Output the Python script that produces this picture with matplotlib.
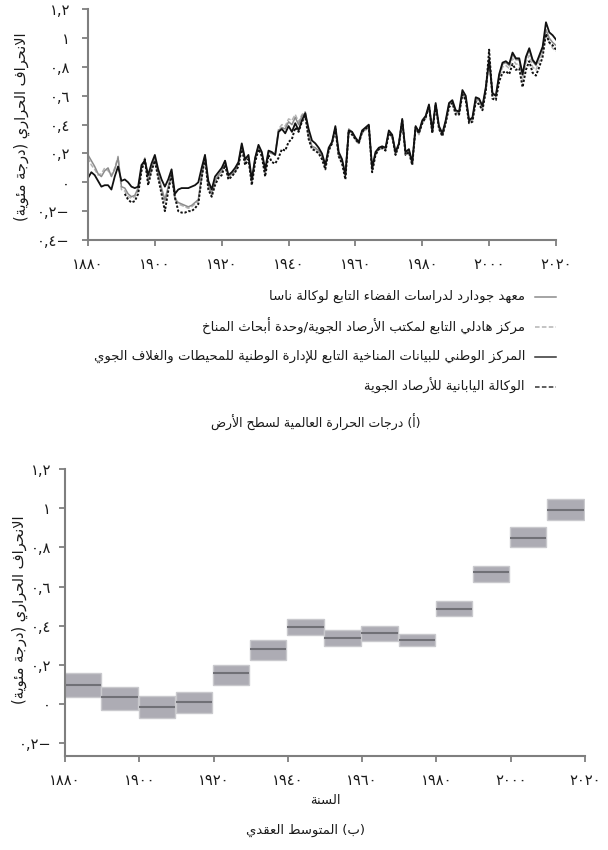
import matplotlib
matplotlib.use("Agg")
import matplotlib.pyplot as plt
from matplotlib.lines import Line2D
import numpy as np

plt.rcParams['font.family'] = ['DejaVu Sans']

# ---- data: annual anomalies (panel a) ----
years = list(range(1880, 2021))

noaa = [0.03, 0.07, 0.05, 0.01, -0.03, -0.02, -0.02, -0.05, 0.04, 0.11,
        0.01, 0.02, 0.00, -0.03, -0.04, -0.03, 0.12, 0.15, 0.05, 0.13,
        0.19, 0.09, 0.02, -0.03, 0.02, 0.09, -0.08, -0.05, -0.04, -0.04,
        -0.04, -0.03, -0.02, 0.00, 0.10, 0.19, 0.01, -0.05, 0.04, 0.07,
        0.10, 0.15, 0.05, 0.07, 0.10, 0.14, 0.27, 0.16, 0.19, 0.02,
        0.17, 0.26, 0.21, 0.09, 0.22, 0.21, 0.19, 0.35, 0.37, 0.34,
        0.39, 0.35, 0.41, 0.36, 0.43, 0.48, 0.37, 0.29, 0.27, 0.24,
        0.20, 0.12, 0.24, 0.28, 0.39, 0.21, 0.16, 0.05, 0.36, 0.35,
        0.31, 0.28, 0.36, 0.38, 0.40, 0.10, 0.21, 0.24, 0.25, 0.24,
        0.36, 0.33, 0.21, 0.27, 0.44, 0.21, 0.23, 0.14, 0.39, 0.35,
        0.43, 0.46, 0.54, 0.36, 0.55, 0.39, 0.34, 0.43, 0.55, 0.57,
        0.50, 0.49, 0.64, 0.60, 0.43, 0.45, 0.59, 0.58, 0.53, 0.66,
        0.85, 0.62, 0.60, 0.75, 0.83, 0.84, 0.82, 0.90, 0.86, 0.86,
        0.75, 0.87, 0.93, 0.85, 0.82, 0.88, 0.94, 1.11, 1.04, 1.02,
        0.99]

nasa = [0.19, 0.15, 0.11, 0.06, 0.04, 0.08, 0.10, 0.04, 0.09, 0.17,
        -0.03, -0.04, -0.08, -0.10, -0.09, -0.04, 0.10, 0.16, 0.01, 0.10,
        0.17, 0.06, -0.04, -0.12, -0.03, 0.07, -0.12, -0.14, -0.15, -0.16,
        -0.17, -0.16, -0.14, -0.12, 0.05, 0.19, -0.02, -0.08, 0.01, 0.05,
        0.08, 0.15, 0.04, 0.06, 0.08, 0.13, 0.26, 0.15, 0.18, 0.00,
        0.17, 0.25, 0.20, 0.07, 0.21, 0.20, 0.19, 0.36, 0.38, 0.37,
        0.42, 0.40, 0.45, 0.40, 0.46, 0.48, 0.33, 0.25, 0.24, 0.22,
        0.18, 0.11, 0.23, 0.27, 0.38, 0.19, 0.15, 0.06, 0.37, 0.35,
        0.30, 0.27, 0.35, 0.37, 0.39, 0.09, 0.20, 0.23, 0.24, 0.23,
        0.35, 0.32, 0.20, 0.26, 0.43, 0.20, 0.22, 0.13, 0.38, 0.34,
        0.42, 0.45, 0.53, 0.35, 0.54, 0.38, 0.33, 0.42, 0.54, 0.56,
        0.49, 0.48, 0.62, 0.59, 0.42, 0.44, 0.58, 0.57, 0.52, 0.65,
        0.86, 0.61, 0.60, 0.74, 0.82, 0.83, 0.81, 0.89, 0.85, 0.85,
        0.74, 0.86, 0.92, 0.84, 0.81, 0.87, 0.93, 1.06, 1.00, 0.97,
        0.95]

hadley = [0.17, 0.12, 0.09, 0.05, 0.06, 0.10, 0.08, 0.05, 0.10, 0.18,
          -0.05, -0.06, -0.10, -0.11, -0.10, -0.06, 0.08, 0.17, 0.00, 0.08,
          0.15, 0.05, -0.06, -0.14, -0.05, 0.05, -0.10, -0.15, -0.16, -0.17,
          -0.18, -0.17, -0.15, -0.13, 0.03, 0.17, -0.03, -0.09, 0.00, 0.04,
          0.07, 0.14, 0.03, 0.05, 0.07, 0.12, 0.25, 0.14, 0.17, -0.01,
          0.16, 0.24, 0.20, 0.06, 0.21, 0.20, 0.20, 0.37, 0.40, 0.39,
          0.44, 0.43, 0.47, 0.42, 0.47, 0.49, 0.32, 0.24, 0.23, 0.21,
          0.17, 0.11, 0.22, 0.27, 0.37, 0.18, 0.14, 0.05, 0.36, 0.34,
          0.29, 0.27, 0.34, 0.36, 0.38, 0.08, 0.19, 0.23, 0.23, 0.22,
          0.34, 0.31, 0.19, 0.26, 0.42, 0.19, 0.21, 0.12, 0.37, 0.33,
          0.41, 0.44, 0.52, 0.35, 0.53, 0.37, 0.32, 0.41, 0.53, 0.55,
          0.48, 0.47, 0.61, 0.58, 0.41, 0.43, 0.57, 0.56, 0.51, 0.63,
          0.83, 0.59, 0.58, 0.72, 0.80, 0.81, 0.79, 0.86, 0.82, 0.82,
          0.71, 0.83, 0.88, 0.80, 0.78, 0.84, 0.90, 1.03, 0.97, 0.93,
          0.91]

jma_years = list(range(1891, 2021))
jma = [-0.08, -0.12, -0.14, -0.13, -0.08, 0.08, 0.16, -0.02, 0.08,
       0.15, 0.03, -0.08, -0.20, -0.06, 0.05, -0.10, -0.20, -0.21, -0.21,
       -0.20, -0.20, -0.18, -0.15, 0.03, 0.17, -0.05, -0.10, -0.02, 0.03,
       0.05, 0.12, 0.02, 0.04, 0.07, 0.11, 0.24, 0.12, 0.16, -0.02,
       0.14, 0.23, 0.18, 0.04, 0.19, 0.14, 0.13, 0.17, 0.23, 0.22,
       0.28, 0.30, 0.38, 0.35, 0.42, 0.46, 0.30, 0.23, 0.22, 0.20,
       0.16, 0.09, 0.22, 0.27, 0.37, 0.18, 0.13, 0.02, 0.36, 0.33,
       0.30, 0.27, 0.35, 0.37, 0.39, 0.07, 0.19, 0.23, 0.24, 0.22,
       0.34, 0.32, 0.19, 0.26, 0.43, 0.19, 0.21, 0.12, 0.38, 0.34,
       0.41, 0.45, 0.53, 0.34, 0.54, 0.37, 0.32, 0.41, 0.52, 0.55,
       0.47, 0.47, 0.61, 0.57, 0.41, 0.42, 0.56, 0.54, 0.50, 0.63,
       0.92, 0.58, 0.57, 0.70, 0.76, 0.77, 0.75, 0.82, 0.78, 0.79,
       0.66, 0.78, 0.84, 0.76, 0.74, 0.80, 0.87, 1.03, 0.97, 0.95,
       0.92]

# ---- data: decadal means (panel b) ----
decades = [1880, 1890, 1900, 1910, 1920, 1930, 1940, 1950, 1960, 1970,
           1980, 1990, 2000, 2010]
dec_mean = [0.099, 0.034, -0.014, 0.010, 0.160, 0.281, 0.395, 0.339, 0.363,
            0.329, 0.487, 0.676, 0.846, 0.989]
dec_low = [0.036, -0.029, -0.070, -0.046, 0.099, 0.226, 0.354, 0.296, 0.322,
           0.296, 0.451, 0.623, 0.800, 0.941]
dec_high = [0.158, 0.085, 0.041, 0.060, 0.201, 0.329, 0.436, 0.376, 0.400,
            0.359, 0.528, 0.706, 0.902, 1.049]

# ---- text ----
xticks = [1880, 1900, 1920, 1940, 1960, 1980, 2000, 2020]
xtick_labels = ['١٨٨٠', '١٩٠٠', '١٩٢٠', '١٩٤٠', '١٩٦٠', '١٩٨٠', '٢٠٠٠', '٢٠٢٠']
yticks_a = [-0.4, -0.2, 0, 0.2, 0.4, 0.6, 0.8, 1.0, 1.2]
ytick_labels_a = ['٠,٤−', '٠,٢−', '٠', '٠,٢', '٠,٤', '٠,٦', '٠,٨', '١', '١,٢']
yticks_b = yticks_a[1:]
ytick_labels_b = ytick_labels_a[1:]

ylabel = 'الانحراف الحراري (درجة مئوية)'
xlabel_b = 'السنة'
caption_a = '(أ) درجات الحرارة العالمية لسطح الأرض'
caption_b = '(ب) المتوسط العقدي'
names = ['معهد جودارد لدراسات الفضاء التابع لوكالة ناسا',
         'مركز هادلي التابع لمكتب الأرصاد الجوية/وحدة أبحاث المناخ',
         'المركز الوطني للبيانات المناخية التابع للإدارة الوطنية للمحيطات والغلاف الجوي',
         'الوكالة اليابانية للأرصاد الجوية']


# matplotlib does no arabic shaping, so pick presentation forms by hand
BASE = {'ء': 0xFE80, 'آ': 0xFE81, 'أ': 0xFE83, 'ؤ': 0xFE85, 'إ': 0xFE87,
        'ئ': 0xFE89, 'ا': 0xFE8D, 'ب': 0xFE8F, 'ة': 0xFE93, 'ت': 0xFE95,
        'ث': 0xFE99, 'ج': 0xFE9D, 'ح': 0xFEA1, 'خ': 0xFEA5, 'د': 0xFEA9,
        'ذ': 0xFEAB, 'ر': 0xFEAD, 'ز': 0xFEAF, 'س': 0xFEB1, 'ش': 0xFEB5,
        'ص': 0xFEB9, 'ض': 0xFEBD, 'ط': 0xFEC1, 'ظ': 0xFEC5, 'ع': 0xFEC9,
        'غ': 0xFECD, 'ف': 0xFED1, 'ق': 0xFED5, 'ك': 0xFED9, 'ل': 0xFEDD,
        'م': 0xFEE1, 'ن': 0xFEE5, 'ه': 0xFEE9, 'و': 0xFEED, 'ى': 0xFEEF,
        'ي': 0xFEF1}
RIGHT_ONLY = set('آأؤإاةدذرزوى')
LAM_ALEF = {'آ': 0xFEF5, 'أ': 0xFEF7, 'إ': 0xFEF9, 'ا': 0xFEFB}


def joins_next(ch):
    return ch in BASE and ch not in RIGHT_ONLY and ch != 'ء'


def ar(text):
    out = []
    i = 0
    while i < len(text):
        ch = text[i]
        prev = text[i - 1] if i > 0 else ''
        nxt = text[i + 1] if i + 1 < len(text) else ''
        if ch == 'ل' and nxt in LAM_ALEF:
            out.append(chr(LAM_ALEF[nxt] + (1 if joins_next(prev) else 0)))
            i += 2
            continue
        if ch in BASE:
            b = BASE[ch]
            p = joins_next(prev)
            q = joins_next(ch) and nxt in BASE and nxt != 'ء'
            if ch == 'ء':
                code = b
            elif p and q:
                code = b + 3
            elif q:
                code = b + 2
            elif p:
                code = b + 1
            else:
                code = b
            out.append(chr(code))
        else:
            out.append(ch)
        i += 1
    mirror = {'(': ')', ')': '('}
    return ''.join(mirror.get(c, c) for c in reversed(out))


W, H = 608, 850
fig = plt.figure(figsize=(W / 100, H / 100), dpi=100)


def fx(px):
    return px / W


def fy(py):
    return 1 - py / H


spine_col = '#7f7f7f'
txt_col = '#1a1a1a'


def style_axes(ax, ypad):
    for s in ['top', 'right']:
        ax.spines[s].set_visible(False)
    for s in ['left', 'bottom']:
        ax.spines[s].set_color(spine_col)
        ax.spines[s].set_linewidth(1.5)
    ax.tick_params(axis='both', colors=spine_col, labelcolor=txt_col,
                   labelsize=10.5, width=1.3, length=4)
    ax.tick_params(axis='y', pad=ypad)
    ax.tick_params(axis='x', pad=8)


# ---- panel a ----
ax1 = fig.add_axes([fx(88), fy(240), fx(468), (240 - 9.3) / H])
ax1.plot(years, hadley, color='#b4b4b4', lw=1.1, ls=(0, (3, 1.2)))
ax1.plot(years, nasa, color='#8c8c8c', lw=1.1)
ax1.plot(years, noaa, color='#111111', lw=1.3)
ax1.plot(jma_years, jma, color='#111111', lw=1.4, ls=(0, (1.2, 0.9)))
ax1.set_xlim(1880, 2020)
ax1.set_ylim(-0.4, 1.2)
ax1.set_xticks(xticks)
ax1.set_xticklabels(xtick_labels)
ax1.set_yticks(yticks_a)
ax1.set_yticklabels(ytick_labels_a)
style_axes(ax1, 9)
fig.text(fx(22), fy(127), ar(ylabel), rotation=90, ha='center', va='center',
         fontsize=10.5, color=txt_col)

# legend drawn by hand: text on the left, line sample on the right
legend_styles = [dict(color='#8c8c8c', lw=1.1, ls='-'),
                 dict(color='#b4b4b4', lw=1.1, ls=(0, (3, 1.5))),
                 dict(color='#333333', lw=1.1, ls='-'),
                 dict(color='#333333', lw=1.1, ls=(0, (3, 1.5)))]
for k, (name, st) in enumerate(zip(names, legend_styles)):
    yy = 296 + k * 30
    fig.text(fx(525), fy(yy), ar(name), ha='right', va='center',
             fontsize=9.5, color=txt_col)
    fig.add_artist(Line2D([fx(535), fx(556)], [fy(yy + 1), fy(yy + 1)], **st))

fig.text(fx(316), fy(422), ar(caption_a), ha='center', va='center',
         fontsize=9, color=txt_col)

# ---- panel b ----
ymin_b = -0.265
ax2 = fig.add_axes([fx(65), fy(756), fx(520), (756 - 469) / H])
lo = np.array(dec_low)
hi = np.array(dec_high)
left = np.array(decades) - 0.2
ax2.bar(left, hi - lo, bottom=lo, width=9.8, align='edge',
        color='#adacb4', edgecolor='#c9c9cd', linewidth=1)
ax2.hlines(dec_mean, left, left + 9.8, color='#707076', lw=1.5)
ax2.set_xlim(1880, 2020)
ax2.set_ylim(ymin_b, 1.2)
ax2.set_xticks(xticks)
ax2.set_xticklabels(xtick_labels)
ax2.set_yticks(yticks_b)
ax2.set_yticklabels(ytick_labels_b)
style_axes(ax2, 6)
fig.text(fx(20), fy(610), ar(ylabel), rotation=90, ha='center', va='center',
         fontsize=10.5, color=txt_col)
fig.text(fx(325), fy(800), ar(xlabel_b), ha='center', va='center',
         fontsize=9.5, color=txt_col)
fig.text(fx(306), fy(830), ar(caption_b), ha='center', va='center',
         fontsize=9.5, color=txt_col)

plt.savefig('out.png', dpi=100)
